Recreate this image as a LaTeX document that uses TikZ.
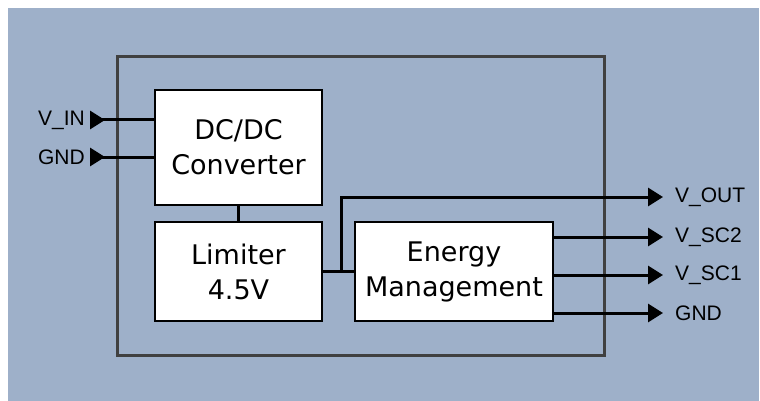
\documentclass[tikz,border=0pt]{standalone}
\usepackage{fontspec}
\setmainfont{DejaVu Sans}
\newfontfamily\pinfont{Liberation Sans}
\usepackage{xcolor}
\usetikzlibrary{arrows.meta}
\definecolor{backdrop}{RGB}{158,176,201}
\definecolor{frameline}{RGB}{64,64,64}

\begin{document}
\begin{tikzpicture}[
            x = 1pt, y = -1pt,
            block/.style = {draw = black, line width = 1.5pt, fill = white, align = center,
                            inner sep = 0pt, font = \fontsize{27}{35}\selectfont},
            wire/.style = {line width = 3pt},
            pinout/.style = {wire, -{Triangle[length = 15pt, width = 18pt]}},
            pinin/.style = {wire, {Triangle[reversed, length = 15pt, width = 18pt]}-},
            pinlabel/.style = {inner sep = 0pt, font = \pinfont\fontsize{21}{25}\selectfont}
            ]
            \useasboundingbox (0,0) rectangle (760,401);
            \fill[backdrop] (8,8) rectangle (759,401);
            \draw[frameline, line width = 3pt] (117,57) rectangle (604,355);

            \node[block, minimum width = 167pt, minimum height = 115pt] (dcdc) at (238.5,147.5) {DC/DC\\Converter};
            \node[block, minimum width = 167pt, minimum height = 99pt] (limiter) at (238.5,271.5) {Limiter\\4.5V};
            \node[block, minimum width = 198pt, minimum height = 99pt] (energy) at (454,271.5) {Energy\\Management};

            \coordinate (vin) at (90,120);
            \coordinate (gndin) at (90,157);
            \coordinate (tap) at (341,271.5);
            \coordinate (vout) at (663,197);
            \coordinate (vsc2) at (663,237);
            \coordinate (vsc1) at (663,275);
            \coordinate (gndout) at (663,313);

            \draw[pinin] (vin) -- (vin -| dcdc.west);
            \draw[pinin] (gndin) -- (gndin -| dcdc.west);
            \draw[wire] (dcdc.south) -- (limiter.north);
            \draw[wire] (limiter.east) -- (energy.west);
            \draw[pinout] (tap) |- (vout);
            \draw[pinout] (vsc2 -| energy.east) -- (vsc2);
            \draw[pinout] (vsc1 -| energy.east) -- (vsc1);
            \draw[pinout] (gndout -| energy.east) -- (gndout);

            \node[pinlabel, anchor = east] (lvin) at (85,120) {V\_IN};
            \node[pinlabel, anchor = east] (lgndin) at (85,157) {GND};
            \node[pinlabel, anchor = west] (lvout) at (675,197) {V\_OUT};
            \node[pinlabel, anchor = west] (lvsc2) at (675,237) {V\_SC2};
            \node[pinlabel, anchor = west] (lvsc1) at (675,275) {V\_SC1};
            \node[pinlabel, anchor = west] (lgndout) at (675,313) {GND};
        \end{tikzpicture}
\end{document}
